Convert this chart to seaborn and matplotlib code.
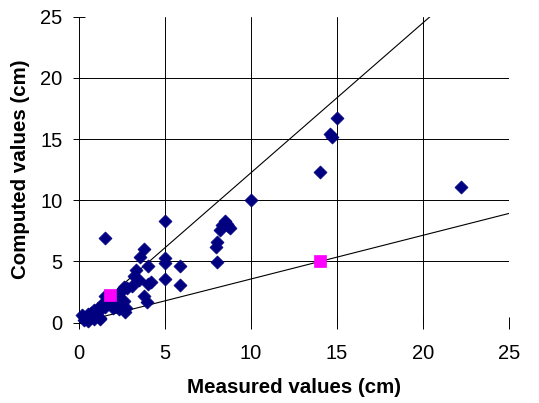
import matplotlib
matplotlib.use("Agg")
import matplotlib.pyplot as plt
import seaborn as sns
import numpy as np
import pandas as pd

# Measured vs computed values (cm)
measured = [0.2, 0.3, 0.4, 0.5, 0.3, 0.6, 0.7, 0.8, 0.9, 1.0, 1.1, 1.2, 1.2, 1.3, 1.4,
            1.5, 1.6, 1.7, 1.8, 1.9, 2.0, 2.1, 2.2, 2.3, 2.4, 2.5, 2.6, 2.7, 2.75, 2.6,
            2.2, 1.5, 0.5, 0.9, 1.2,
            1.5, 5.0, 3.8, 3.55, 4.0, 3.3, 3.2, 3.5, 4.2, 4.0, 3.1, 2.8, 3.8, 3.95,
            5.0, 5.0, 5.0, 5.85, 5.85, 10.0,
            8.0, 7.95, 8.0, 8.2, 8.3, 8.5, 8.6, 8.75, 8.65,
            14.0, 14.6, 14.7, 15.0, 22.2]
computed = [0.6, 0.2, 0.4, 0.7, 0.5, 0.3, 0.8, 0.5, 1.0, 0.7, 1.2, 0.3, 1.0, 1.4, 1.6,
            1.3, 1.8, 2.0, 1.5, 1.7, 1.2, 2.0, 1.4, 1.1, 2.5, 2.7, 1.8, 0.9, 1.2, 2.9,
            2.2, 2.2, 0.1, 0.3, 0.4,
            6.9, 8.3, 6.0, 5.35, 4.65, 4.3, 3.8, 3.5, 3.3, 3.2, 3.0, 2.8, 2.2, 1.65,
            5.3, 4.85, 3.6, 4.65, 3.05, 10.0,
            4.95, 6.2, 6.6, 7.6, 8.0, 8.3, 8.1, 7.7, 7.9,
            12.3, 15.4, 15.2, 16.7, 11.1]

# Highlighted cases
special_measured = [1.82, 14.0]
special_computed = [2.26, 5.0]

# Reference lines (slopes through origin)
line_slopes = [1.225, 0.357]

ticks = [0, 5, 10, 15, 20, 25]
hgrid = [0, 5, 10, 15, 20]

sns.set_style("white")
plt.rcParams['font.family'] = ['Liberation Sans', 'DejaVu Sans']
plt.rcParams['text.color'] = 'black'
plt.rcParams['axes.labelcolor'] = 'black'
plt.rcParams['xtick.color'] = 'black'
plt.rcParams['ytick.color'] = 'black'

fig = plt.figure(figsize=(5.39, 4.03), dpi=100)
ax = fig.add_axes([0.1466, 0.1993, 0.7977, 0.7593])

for t in hgrid:
    ax.axhline(t, color='black', lw=0.7, zorder=0)
for t in ticks:
    ax.axvline(t, color='black', lw=0.7, zorder=0)

xs = np.array([0, 25.0])
for s in line_slopes:
    ax.plot(xs, s * xs, color='black', lw=0.8, zorder=1)

df = pd.DataFrame({'m': measured, 'c': computed})
sns.scatterplot(data=df, x='m', y='c', marker='D', s=44, color='#000080',
                edgecolor='#000080', linewidth=0.5, ax=ax, zorder=3, clip_on=False)
sp = pd.DataFrame({'m': special_measured, 'c': special_computed})
sns.scatterplot(data=sp, x='m', y='c', marker='s', s=72, color='#FF00FF',
                edgecolor='#FF00FF', linewidth=0.5, ax=ax, zorder=4, clip_on=False)

ax.set_xlim(0, 25)
ax.set_ylim(0, 25)
ax.set_xticks(ticks)
ax.set_yticks(ticks)
for sp_ in ax.spines.values():
    sp_.set_visible(False)
ax.tick_params(axis='both', which='both', direction='inout', length=8, width=0.7,
               color='black', labelcolor='black', labelsize=14.5, left=True, bottom=True)
ax.tick_params(axis='x', pad=11)
ax.tick_params(axis='y', pad=8)
ax.set_xlabel('Measured values (cm)', fontsize=14.8, fontweight='bold', labelpad=11,
              color='black')
ax.set_ylabel('Computed values (cm)', fontsize=14.8, fontweight='bold', labelpad=7,
              color='black')

fig.savefig('out.png', dpi=100)
